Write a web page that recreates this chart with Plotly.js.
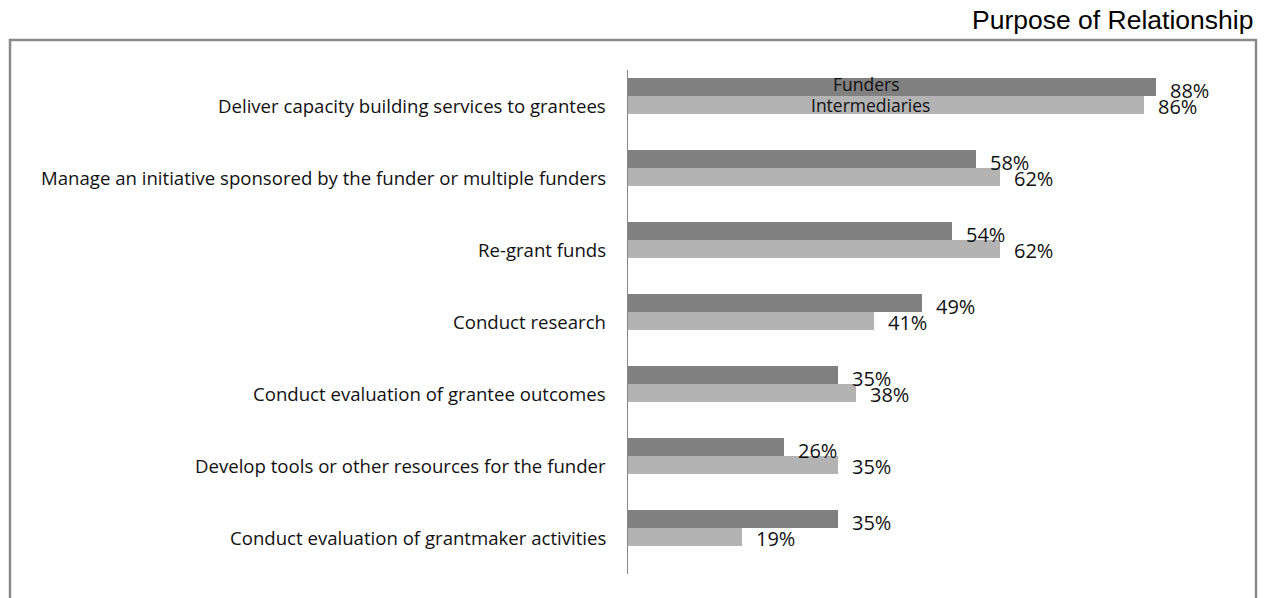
<!DOCTYPE html>
<html>
<head>
<meta charset="utf-8">
<script src="https://cdn.plot.ly/plotly-3.0.1.min.js"></script>
<style>
  html, body { margin: 0; padding: 0; background: #ffffff; }
  #chart { width: 1264px; height: 598px; }
</style>
</head>
<body>
<div id="chart"></div>
<script>
const categories = [
  "Deliver capacity building services to grantees",
  "Manage an initiative sponsored by the funder or multiple funders",
  "Re-grant funds",
  "Conduct research",
  "Conduct evaluation of grantee outcomes",
  "Develop tools or other resources for the funder",
  "Conduct evaluation of grantmaker activities"
];
const funders = [88, 58, 54, 49, 35, 26, 35];
const intermediaries = [86, 62, 62, 41, 38, 35, 19];
const seriesNames = ["Funders", "Intermediaries"];
const chartTitle = "Purpose of Relationship";

const FONT = "'Open Sans', 'Noto Sans', sans-serif";
const W = 1264, H = 598;
const plotL = 628, plotR = 1250, plotT = 70, plotB = 574;
const pxPerPct = 6;

const traces = [
  {
    type: "bar", orientation: "h", name: seriesNames[0],
    y: categories, x: funders,
    marker: { color: "#808080", line: { width: 0 } },
    hoverinfo: "x+y"
  },
  {
    type: "bar", orientation: "h", name: seriesNames[1],
    y: categories, x: intermediaries,
    marker: { color: "#b3b3b3", line: { width: 0 } },
    hoverinfo: "x+y"
  }
];

const annotations = [];
// value labels
funders.forEach((v, i) => annotations.push({
  x: v, y: categories[i], xref: "x", yref: "y",
  text: v + "%", showarrow: false, xanchor: "left", yanchor: "middle",
  xshift: 13, yshift: 6, borderpad: 0,
  font: { family: FONT, size: 20, color: "#111" }
}));
intermediaries.forEach((v, i) => annotations.push({
  x: v, y: categories[i], xref: "x", yref: "y",
  text: v + "%", showarrow: false, xanchor: "left", yanchor: "middle",
  xshift: 13, yshift: -10, borderpad: 0,
  font: { family: FONT, size: 20, color: "#111" }
}));
// category labels
categories.forEach((c, i) => annotations.push({
  x: 0, y: c, xref: "paper", yref: "y",
  text: c, showarrow: false, xanchor: "right", yanchor: "middle",
  xshift: -20, yshift: -9,
  font: { family: FONT, size: 18.6, color: "#111" }
}));
// series name labels (legend placed over the first bars)
annotations.push({
  x: (866 - plotL) / (plotR - plotL), y: categories[0], xref: "paper", yref: "y",
  text: seriesNames[0], showarrow: false, xanchor: "center", yanchor: "middle",
  yshift: 12, borderpad: 0, font: { family: FONT, size: 17.5, color: "#111" }
});
annotations.push({
  x: (870 - plotL) / (plotR - plotL), y: categories[0], xref: "paper", yref: "y",
  text: seriesNames[1], showarrow: false, xanchor: "center", yanchor: "middle",
  yshift: -9, borderpad: 0, font: { family: FONT, size: 17.5, color: "#111" }
});
// title
annotations.push({
  x: (1255 - plotL) / (plotR - plotL), y: (plotB - 20) / (plotB - plotT),
  xref: "paper", yref: "paper", text: chartTitle, showarrow: false,
  xanchor: "right", yanchor: "middle",
  font: { family: "'Liberation Sans', Arial, sans-serif", size: 26.5, color: "#000" }
});

const pw = plotR - plotL, ph = plotB - plotT;
const layout = {
  width: W, height: H,
  margin: { l: plotL, r: W - plotR, t: plotT, b: H - plotB, pad: 0 },
  paper_bgcolor: "#ffffff", plot_bgcolor: "#ffffff",
  showlegend: false,
  barmode: "group", bargap: 0.5, bargroupgap: 0,
  xaxis: {
    range: [0, pw / pxPerPct], showgrid: false, zeroline: false,
    showline: false, showticklabels: false, ticks: ""
  },
  yaxis: {
    type: "category", range: [(plotB - 96) / 72, (plotT - 96) / 72],
    showgrid: false, zeroline: false, showticklabels: false, ticks: "",
    showline: true, linecolor: "#868686", linewidth: 1.5
  },
  annotations: annotations,
  shapes: [{
    type: "rect", xref: "paper", yref: "paper",
    x0: (10 - plotL) / pw, x1: (1256 - plotL) / pw,
    y0: (plotB - 615) / ph, y1: (plotB - 40) / ph,
    line: { color: "#8a8a8a", width: 2.5 }, fillcolor: "rgba(0,0,0,0)"
  }]
};

Plotly.newPlot("chart", traces, layout, { displayModeBar: false, staticPlot: true });
</script>
</body>
</html>
